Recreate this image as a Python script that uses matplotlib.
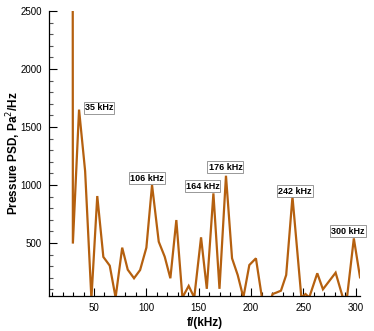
import matplotlib
matplotlib.use("Agg")
import matplotlib.pyplot as plt
from matplotlib.ticker import MultipleLocator

# spectrum (first bin is far off the top of the scale)
freq = [24.0, 29.8, 35.7, 41.5, 47.5, 53.1, 58.9, 65.0, 70.6, 76.9,
        82.2, 88.2, 94.0, 100.0, 105.4, 111.8, 117.5, 122.9, 128.6, 134.4,
        140.4, 145.7, 152.2, 157.7, 164.0, 169.8, 176.0, 181.8, 187.2, 192.6,
        198.3, 204.6, 210.5, 215.5, 220.5, 224.0, 228.5, 233.5, 239.5, 248.0,
        252.0, 255.5, 263.2, 268.6, 280.7, 287.6, 291.7, 298.1, 304.0]
psd = [100000, 495, 1650, 1120, 20, 905, 380, 305, 30, 460,
       270, 196, 267, 460, 1000, 511, 382, 196, 698, 30,
       130, 30, 549, 105, 928, 105, 1080, 368, 224, 30,
       310, 368, 20, -100, 60, 72, 89, 224, 899, 30,
       60, 30, 239, 101, 244, 30, 40, 540, 204]

peak_labels = ["35 kHz", "106 kHz", "164 kHz", "176 kHz", "242 kHz", "300 kHz"]
label_x = [54.8, 100.4, 153.6, 175.5, 242.0, 292.4]
label_y = [1664, 1060, 991, 1155, 948, 603]

plt.rcParams['font.family'] = ['Liberation Sans', 'DejaVu Sans']

fig = plt.figure(figsize=(3.74, 3.31), dpi=100)
ax = fig.add_axes([0.131, 0.1057, 0.8316, 0.861])

ax.plot(freq, psd, color='#b5600f', lw=1.6, solid_joinstyle='miter')

for txt, x, y in zip(peak_labels, label_x, label_y):
    ax.text(x, y, txt, ha='center', va='center', fontsize=6.5, fontweight='bold',
            bbox=dict(boxstyle='square,pad=0.12', fc='white', ec='#888888', lw=0.6))

ax.set_xlim(7, 304)
ax.set_ylim(43, 2500)
ax.xaxis.set_major_locator(MultipleLocator(50))
ax.xaxis.set_minor_locator(MultipleLocator(10))
ax.yaxis.set_major_locator(MultipleLocator(500))
ax.yaxis.set_minor_locator(MultipleLocator(100))
ax.tick_params(which='both', direction='in', labelsize=7, width=0.8, pad=5)
ax.tick_params(which='major', length=6)
ax.tick_params(which='minor', length=3)
ax.tick_params(axis='y', which='minor', color='#555555')

for side in ['top', 'right']:
    ax.spines[side].set_visible(False)
for side in ['left', 'bottom']:
    ax.spines[side].set_linewidth(0.9)

ax.set_xlabel("f/(kHz)", fontsize=8.5, fontweight='bold')
ax.set_ylabel("Pressure PSD, Pa$^2$/Hz", fontsize=8.5, fontweight='bold')
ax.xaxis.set_label_coords(0.5, -0.075)
ax.yaxis.set_label_coords(-0.085, 0.5)

fig.savefig("out.png", dpi=100)
